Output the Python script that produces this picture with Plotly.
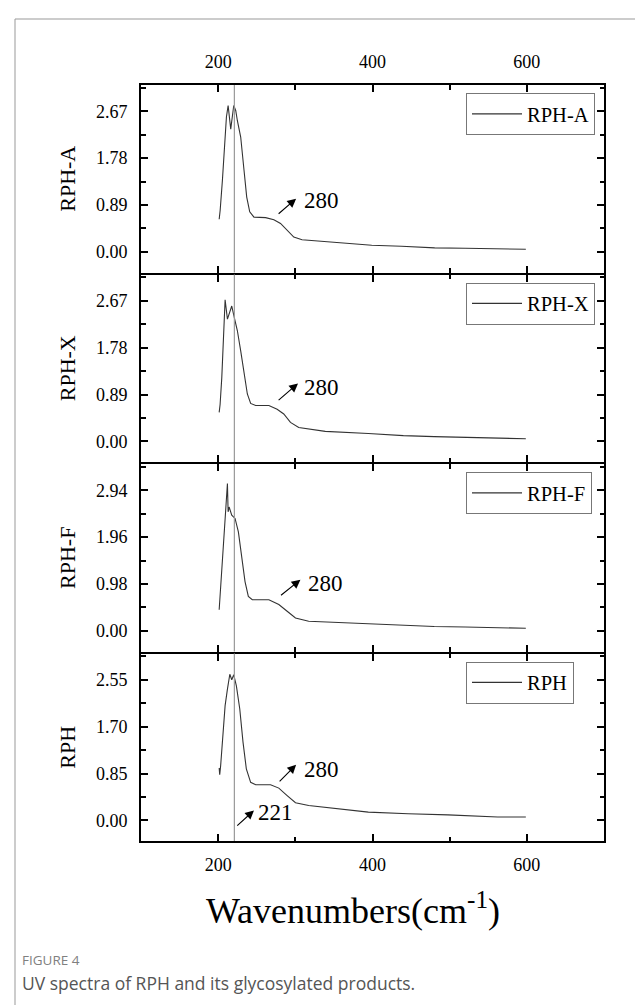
import plotly.graph_objects as go

# ---------------- data ----------------
panel_names = ["RPH-A", "RPH-X", "RPH-F", "RPH"]
tick_steps = [0.89, 0.89, 0.98, 0.85]

wn_A = [201.3, 202.6, 205.5, 208.6, 210.7, 212.9, 216.3, 220.2, 222.8, 224.9, 229.2, 233.5, 237.0, 240.9,
        246.4, 261.5, 272.2, 280.8, 289.4, 298.0, 308.7, 317.0, 338.8, 399.0, 437.6, 480.6, 520.0, 566.5, 598.7]
ab_A = [0.62, 0.79, 1.36, 2.05, 2.56, 2.78, 2.33, 2.78, 2.68, 2.49, 2.18, 1.55, 1.04, 0.76,
        0.66, 0.65, 0.61, 0.54, 0.41, 0.28, 0.23, 0.22, 0.19, 0.127, 0.108, 0.076, 0.07, 0.063, 0.05]

wn_X = [201.3, 202.5, 204.7, 206.9, 209.0, 212.0, 217.6, 221.9, 224.9, 229.2, 233.5, 237.8, 242.1,
        248.6, 265.7, 276.4, 285.0, 293.7, 304.4, 338.8, 394.6, 440.0, 480.0, 520.0, 566.0, 598.7]
ab_X = [0.55, 0.70, 1.21, 1.97, 2.69, 2.32, 2.57, 2.29, 2.10, 1.72, 1.27, 0.90, 0.72,
        0.68, 0.68, 0.61, 0.52, 0.36, 0.265, 0.19, 0.15, 0.11, 0.09, 0.08, 0.065, 0.05]

wn_F = [201.3, 204.7, 207.7, 210.3, 212.0, 212.9, 214.2, 217.6, 221.9, 226.2, 230.6, 234.8, 239.1,
        244.2, 265.7, 278.6, 289.4, 300.2, 317.3, 360.2, 394.6, 440.0, 480.0, 520.0, 566.0, 598.7]
ab_F = [0.44, 1.31, 2.21, 2.84, 3.08, 2.49, 2.59, 2.42, 2.35, 2.07, 1.59, 1.03, 0.72,
        0.65, 0.65, 0.55, 0.41, 0.27, 0.20, 0.17, 0.146, 0.11, 0.09, 0.08, 0.065, 0.055]

wn_R = [201.3, 202.0, 203.2, 205.5, 209.0, 212.0, 215.1, 217.6, 220.2, 223.6, 228.0, 232.2, 236.5,
        242.1, 248.6, 267.9, 278.6, 289.4, 300.2, 317.3, 360.2, 394.6, 446.2, 497.8, 562.2, 598.7]
ab_R = [0.95, 0.83, 0.99, 1.48, 2.08, 2.38, 2.65, 2.55, 2.64, 2.44, 2.02, 1.42, 0.935,
        0.69, 0.645, 0.645, 0.585, 0.45, 0.32, 0.27, 0.20, 0.15, 0.12, 0.10, 0.06, 0.06]

series_x = [wn_A, wn_X, wn_F, wn_R]
series_y = [ab_A, ab_X, ab_F, ab_R]

marker_line_wn = 221
peak_label = "280"
band_label = "221"

# annotation placement (data coords): (tail_x, tail_y, head_x, head_y, text_x, text_y)
arrow_280 = [(276.4, 0.70, 301.0, 1.01, 334.5, 0.98),
             (276.4, 0.76, 303.5, 1.10, 334.5, 1.02),
             (279.5, 0.72, 306.6, 1.07, 338.8, 1.00),
             (277.7, 0.68, 301.0, 1.01, 334.5, 0.93)]
arrow_221 = (222.8, -0.12, 246.4, 0.18, 274.0, 0.15)

x_major = [200, 400, 600]
x_minor = [100, 300, 500, 700]

# ---------------- geometry ----------------
SERIF = "Liberation Serif"
PL, PT, PH, PW = 133, 77, 756, 463
LW = 2          # axis line width
GAP = LW        # px gap so that adjacent panel borders coincide
panel_h = (PH - 3 * GAP) / 4


def px_to_paper_x(px):
    return (px - PL) / PW


def px_to_paper_y(py):
    return (PT + PH - py) / PH


domains = []
for k in range(4):
    top_px = PT + k * (panel_h + GAP)
    bot_px = top_px + panel_h
    domains.append([px_to_paper_y(bot_px), px_to_paper_y(top_px)])

fig = go.Figure()
legend_names = ["legend", "legend2", "legend3", "legend4"]
layout_axes = {}
for i in range(4):
    r = i + 1
    s = tick_steps[i]
    xname = "xaxis" if r == 1 else f"xaxis{r}"
    yname = "yaxis" if r == 1 else f"yaxis{r}"
    xr = "x" if r == 1 else f"x{r}"
    yr = "y" if r == 1 else f"y{r}"
    fig.add_trace(go.Scatter(x=series_x[i], y=series_y[i], mode="lines", name=panel_names[i],
                             line=dict(color="#333333", width=1.1), legend=legend_names[i],
                             showlegend=True, xaxis=xr, yaxis=yr))
    layout_axes[xname] = dict(
        domain=[0, 1], anchor=yr, range=[100, 700], tickvals=x_major, ticks="inside", ticklen=7,
        tickwidth=1.5, tickcolor="black",
        minor=dict(tickvals=x_minor, ticks="inside", ticklen=4.5, tickwidth=1.5, tickcolor="black"),
        showline=True, linecolor="black", linewidth=LW, mirror="ticks",
        showgrid=False, zeroline=False,
        showticklabels=(r in (1, 4)), side=("top" if r == 1 else "bottom"),
        tickfont=dict(family=SERIF, size=18, color="black"),
        ticklabelstandoff=(8 if r == 1 else 6))
    layout_axes[yname] = dict(
        domain=domains[i], anchor=xr, range=[-0.44 * s, 3.56 * s],
        tickvals=[0, s, 2 * s, 3 * s], ticktext=[f"{v:.2f}" for v in [0, s, 2 * s, 3 * s]],
        ticks="inside", ticklen=7, tickwidth=1.5, tickcolor="black",
        minor=dict(tickvals=[0.5 * s, 1.5 * s, 2.5 * s, 3.5 * s], ticks="inside", ticklen=4.5,
                   tickwidth=1.5, tickcolor="black"),
        showline=True, linecolor="black", linewidth=LW, mirror="ticks",
        showgrid=False, zeroline=False,
        tickfont=dict(family=SERIF, size=18, color="black"), ticklabelstandoff=8,
        title=dict(text=panel_names[i], font=dict(family=SERIF, size=22, color="black"), standoff=14))

    # vertical marker line
    fig.add_shape(type="line", xref=xr, yref=f"{yr} domain", x0=marker_line_wn, x1=marker_line_wn, y0=0, y1=1,
                  line=dict(color="#999999", width=1.2))

    # 280 arrow and label
    tx, ty, hx, hy, lx, ly = arrow_280[i]
    fig.add_annotation(x=hx, y=hy, ax=tx, ay=ty, xref=xr, yref=yr, axref=xr, ayref=yr, text="",
                       showarrow=True, arrowhead=2, arrowsize=1.6, arrowwidth=1.1, arrowcolor="black")
    fig.add_annotation(x=lx, y=ly, xref=xr, yref=yr, text=peak_label, showarrow=False,
                       font=dict(family=SERIF, size=23, color="black"))

tx, ty, hx, hy, lx, ly = arrow_221
fig.add_annotation(x=hx, y=hy, ax=tx, ay=ty, xref="x4", yref="y4", axref="x4", ayref="y4", text="",
                   showarrow=True, arrowhead=2, arrowsize=1.6, arrowwidth=1.1, arrowcolor="black")
fig.add_annotation(x=lx, y=ly, xref="x4", yref="y4", text=band_label, showarrow=False,
                   font=dict(family=SERIF, size=23, color="black"))

# x axis title
fig.add_annotation(x=px_to_paper_x(345), y=px_to_paper_y(900), xref="paper", yref="paper",
                   text="Wavenumbers(cm<sup>-1</sup>)",
                   showarrow=False, font=dict(family=SERIF, size=36, color="black"),
                   xanchor="center", yanchor="middle")

# caption
fig.add_annotation(x=px_to_paper_x(12), y=px_to_paper_y(952), xref="paper", yref="paper", text="FIGURE 4",
                   showarrow=False, xanchor="left", yanchor="middle",
                   font=dict(family="Open Sans", size=13.5, color="#808080"))
fig.add_annotation(x=px_to_paper_x(12), y=px_to_paper_y(975), xref="paper", yref="paper",
                   text="UV spectra of RPH and its glycosylated products.", showarrow=False,
                   xanchor="left", yanchor="middle", font=dict(family="Open Sans", size=17.5, color="#555555"))

# card frame
fig.add_shape(type="rect", xref="paper", yref="paper", x0=px_to_paper_x(7), x1=px_to_paper_x(660),
              y0=px_to_paper_y(1020), y1=px_to_paper_y(11),
              line=dict(color="#999999", width=1), fillcolor="rgba(0,0,0,0)", layer="below")

# legends (one per panel)
leg_common = dict(xanchor="left", yanchor="top", bgcolor="white", bordercolor="#777777", borderwidth=1,
                  font=dict(family=SERIF, size=20.5, color="black"), itemwidth=50, tracegroupgap=0)
layout_legends = {}
for i, ln in enumerate(legend_names):
    top_px = PT + i * (panel_h + GAP) + 8
    layout_legends[ln] = dict(x=px_to_paper_x(458), y=px_to_paper_y(top_px), **leg_common)

fig.update_layout(
    width=643, height=1005,
    margin=dict(l=PL, r=643 - PL - PW, t=PT, b=1005 - PT - PH),
    paper_bgcolor="white", plot_bgcolor="white",
    **layout_axes,
    **layout_legends,
)

fig.write_html("out.html")
